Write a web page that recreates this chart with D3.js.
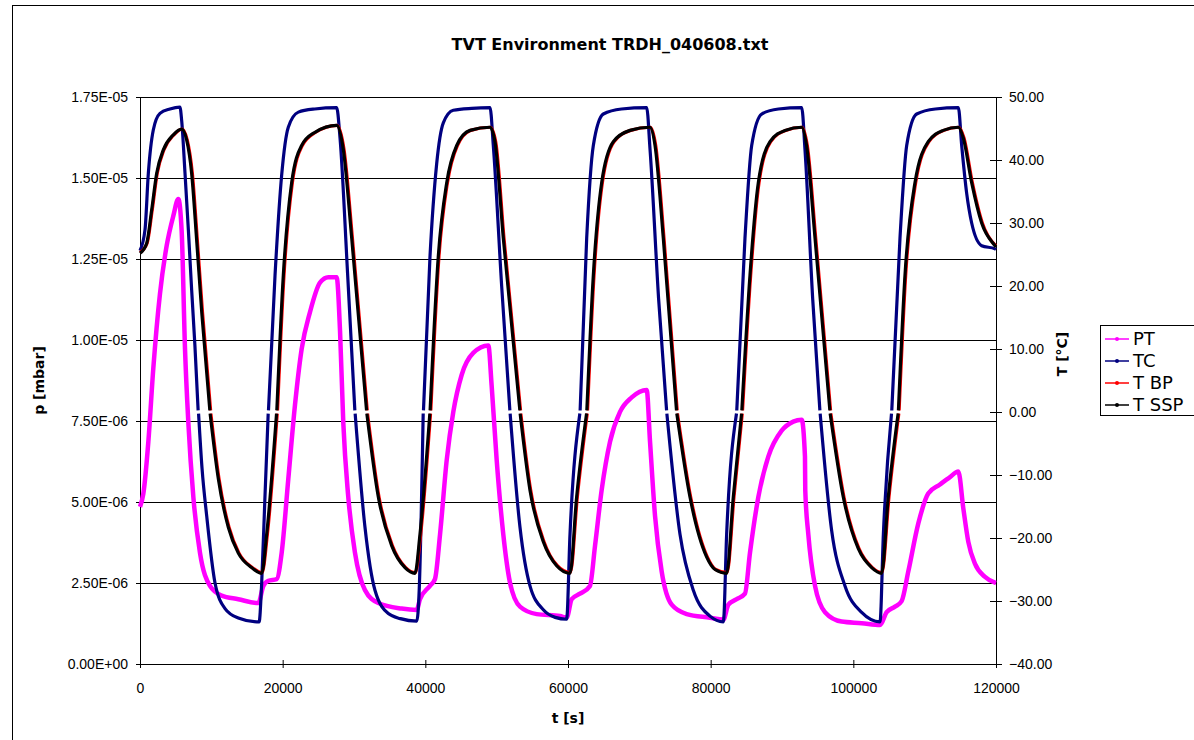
<!DOCTYPE html>
<html>
<head>
<meta charset="utf-8">
<script src="https://cdn.jsdelivr.net/npm/d3@7"></script>
<style>
  body { margin: 0; background: #fff; }
  svg { display: block; font-family: "DejaVu Sans", Arial, sans-serif; }
  .axis text { font-size: 14px; fill: #000; }
  .axis path, .axis line { stroke: #000; }
</style>
</head>
<body>
<script>
// time in s, pressure in mbar, temperatures in degC
// null = gap in the logged data (white breaks at 0 degC)
var ptData = [
  [0, 4.85e-6], [470, 5.26e-6], [1170, 6.86e-6], [1870, 9.14e-6], [2800, 11.43e-6], [3740, 12.91e-6],
  [4670, 13.83e-6], [5370, 14.35e-6], [5840, 13.37e-6], [6310, 9.72e-6], [6780, 7.44e-6], [7480, 5.15e-6],
  [8410, 3.43e-6], [9810, 2.41e-6], [11450, 2.11e-6], [13780, 2.0e-6], [16590, 1.88e-6],
  [17290, 2.41e-6], [17990, 2.57e-6], [19160, 2.62e-6], [19860, 3.43e-6], [20790, 5.71e-6], [21730, 8.0e-6],
  [22660, 9.72e-6], [23830, 10.86e-6], [25230, 11.77e-6], [26400, 11.94e-6], [27570, 11.94e-6],
  [28040, 10.29e-6], [28500, 7.44e-6], [29200, 5.15e-6], [30140, 3.43e-6], [31540, 2.28e-6], [33410, 1.88e-6],
  [36680, 1.71e-6], [38790, 1.67e-6],
  [39250, 2.0e-6], [40650, 2.41e-6], [41350, 2.62e-6], [42060, 4.0e-6], [43000, 6.3e-6], [43920, 7.78e-6],
  [45090, 8.92e-6], [46720, 9.6e-6], [48830, 9.83e-6],
  [49300, 8.58e-6], [50000, 6.3e-6], [50930, 4.0e-6], [51870, 2.51e-6], [53270, 1.77e-6], [55610, 1.54e-6],
  [58880, 1.48e-6], [59820, 1.43e-6],
  [60520, 2.0e-6], [61680, 2.17e-6], [63080, 2.41e-6], [63790, 3.65e-6], [64720, 5.37e-6], [65890, 6.86e-6],
  [67290, 7.78e-6], [68930, 8.23e-6], [71030, 8.46e-6],
  [71500, 6.86e-6], [72200, 4.57e-6], [73130, 2.86e-6], [74540, 1.83e-6], [76640, 1.54e-6], [79900, 1.43e-6],
  [81780, 1.37e-6],
  [82480, 1.83e-6], [83650, 2.0e-6], [84810, 2.17e-6], [85510, 3.43e-6], [86680, 5.15e-6], [88080, 6.4e-6],
  [89950, 7.2e-6], [91580, 7.48e-6], [92760, 7.54e-6],
  [93220, 6.4e-6], [93260, 5.37e-6], [93690, 4.0e-6], [94630, 2.41e-6], [96030, 1.6e-6], [98360, 1.31e-6],
  [101170, 1.26e-6], [103740, 1.2e-6],
  [104670, 1.6e-6], [105840, 1.77e-6], [106770, 1.94e-6], [107710, 2.86e-6], [109110, 4.34e-6], [110500, 5.26e-6],
  [112140, 5.54e-6], [113550, 5.77e-6], [114720, 5.94e-6],
  [115420, 4.8e-6], [116120, 3.77e-6], [117060, 3.09e-6], [118460, 2.69e-6], [119860, 2.51e-6], [120000, 2.5e-6]
];

var tcData = [
  [0, 25.6], [700, 28.9], [1170, 37.9], [1870, 44.8], [2800, 47.4], [4200, 48.1], [5600, 48.4],
  [5840, 46.3], [6310, 37.9], [6780, 28.9], [7240, 19.4], [7700, 10.5], [8150, 0.25], [8180, null], [8210, -0.25],
  [8700, -9], [9350, -16.5], [10510, -27.1], [11920, -31.2], [13780, -32.7], [16360, -33.3], [16700, -33.3],
  [17060, -27.1], [17500, -14], [17970, -0.25], [17990, null], [18010, 0.25], [18930, 21.7], [19860, 37.6],
  [20790, 45.2], [22200, 47.6], [24500, 48.1], [27570, 48.3],
  [28040, 43.5], [29100, 22], [30120, 0.25], [30140, null], [30160, -0.25], [31540, -18.3], [32940, -28.3],
  [34810, -32], [36500, -32.8], [38800, -33.2],
  [39150, -28], [39700, -0.25], [39720, null], [39740, 0.25], [40650, 24.6], [41590, 39.4], [42520, 45.9],
  [43920, 47.9], [46500, 48.2], [49070, 48.3],
  [49530, 42.3], [50700, 20], [51850, 0.25], [51870, null], [51890, -0.25], [53270, -18.3], [54670, -27.6],
  [56540, -31.4], [58200, -32.6], [59810, -32.9],
  [60280, -19.4], [61660, -0.25], [61680, null], [61700, 0.25], [62620, 27.6], [63550, 42.3], [64950, 47.3],
  [67500, 48.1], [71030, 48.3],
  [71500, 41.7], [72700, 18], [73820, 0.25], [73840, null], [73860, -0.25], [75700, -19.4], [77570, -28.3],
  [79900, -32.4], [81780, -33.3],
  [82240, -19.4], [83620, -0.25], [83640, null], [83660, 0.25], [84810, 27.6], [85750, 42.3], [87150, 47.3],
  [89500, 48.1], [92760, 48.3],
  [93220, 41.7], [94300, 18], [95310, 0.25], [95330, null], [95350, -0.25], [96960, -18.8], [98830, -27.6],
  [101170, -31.8], [103740, -33.3],
  [104210, -19.4], [105350, -0.25], [105370, null], [105390, 0.25], [106540, 27.6], [107480, 42.3],
  [108880, 47.3], [111500, 48.1], [114720, 48.3],
  [115190, 42.3], [115890, 34.7], [116590, 30], [117990, 26.4], [119860, 25.9], [120000, 25.8]
];

var tbpData = [
  [0, 25.3], [1000, 26.8], [1720, 32.1], [2420, 37.9], [3350, 41.6], [4750, 44.0], [5900, 44.9],
  [6620, 43.2], [7340, 37.9], [8040, 27.3], [8760, 15.9], [9900, 0.25], [9920, null], [9940, -0.25],
  [11080, -10.6], [12480, -18.3], [13880, -22.4], [15750, -24.7], [17120, -25.5],
  [17860, -19.4], [19240, -0.25], [19260, null], [19280, 0.25], [20190, 21.7], [21360, 36.4], [22760, 42.3],
  [24630, 44.4], [27620, 45.5],
  [28600, 41.7], [29780, 27.6], [31860, 0.25], [31880, null], [31900, -0.25], [33510, -13.5], [35380, -21.2],
  [37250, -24.7], [38610, -25.5],
  [39350, -19.4], [40730, -0.25], [40750, null], [40770, 0.25], [41910, 24.6], [43100, 36.4], [44500, 42.3],
  [46360, 44.7], [49120, 45.2],
  [49870, 42.9], [51030, 27.6], [53350, 0.25], [53370, null], [53390, -0.25], [54770, -12.4], [56640, -20.6],
  [58510, -24.4], [60340, -25.5],
  [61310, -13.5], [62700, -0.25], [62720, null], [62740, 0.25], [63650, 21.7], [64820, 36.4], [66450, 42.9],
  [68790, 44.7], [71550, 45.2],
  [72300, 42.3], [73460, 27.6], [75310, 0.25], [75330, null], [75350, -0.25], [77200, -13.5], [79530, -23.0],
  [80710, -25.0], [82300, -25.5],
  [83270, -13.5], [84430, -0.25], [84450, null], [84470, 0.25], [85610, 21.7], [86780, 36.4], [88420, 42.9],
  [90520, 44.7], [92810, 45.2],
  [93550, 42.3], [94730, 27.6], [96810, 0.25], [96830, null], [96850, -0.25], [98690, -13.5], [100800, -21.7],
  [102670, -24.7], [104020, -25.5],
  [105000, -13.5], [106380, -0.25], [106400, null], [106420, 0.25], [107340, 21.7], [108740, 36.4],
  [110600, 42.9], [112700, 44.7], [114770, 45.2],
  [115520, 43.5], [116690, 36.4], [118090, 30], [119900, 26.5], [120000, 26.4]
];

var tsspData = [
  [0, 25.2], [940, 26.8], [1640, 32.1], [2340, 37.9], [3270, 41.6], [4670, 44.0], [5840, 44.9],
  [6540, 43.2], [7240, 37.9], [7940, 27.3], [8650, 15.9], [9790, 0.25], [9810, null], [9830, -0.25],
  [10980, -10.6], [12380, -18.3], [13780, -22.4], [15650, -24.7], [17060, -25.6],
  [17760, -19.4], [19140, -0.25], [19160, null], [19180, 0.25], [20090, 21.7], [21260, 36.4], [22660, 42.3],
  [24530, 44.4], [27570, 45.5],
  [28500, 41.7], [29680, 27.6], [31760, 0.25], [31780, null], [31800, -0.25], [33410, -13.5], [35280, -21.2],
  [37150, -24.7], [38550, -25.6],
  [39250, -19.4], [40630, -0.25], [40650, null], [40670, 0.25], [41810, 24.6], [43000, 36.4], [44400, 42.3],
  [46260, 44.7], [49070, 45.2],
  [49770, 42.9], [50930, 27.6], [53250, 0.25], [53270, null], [53290, -0.25], [54670, -12.4], [56540, -20.6],
  [58410, -24.4], [60280, -25.6],
  [61210, -13.5], [62600, -0.25], [62620, null], [62640, 0.25], [63550, 21.7], [64720, 36.4], [66350, 42.9],
  [68690, 44.7], [71500, 45.2],
  [72200, 42.3], [73360, 27.6], [75210, 0.25], [75230, null], [75250, -0.25], [77100, -13.5], [79430, -23.0],
  [80610, -25.0], [82240, -25.6],
  [83170, -13.5], [84330, -0.25], [84350, null], [84370, 0.25], [85510, 21.7], [86680, 36.4], [88320, 42.9],
  [90420, 44.7], [92760, 45.2],
  [93450, 42.3], [94630, 27.6], [96710, 0.25], [96730, null], [96750, -0.25], [98590, -13.5], [100700, -21.7],
  [102570, -24.7], [103960, -25.6],
  [104900, -13.5], [106280, -0.25], [106300, null], [106320, 0.25], [107240, 21.7], [108640, 36.4],
  [110500, 42.9], [112600, 44.7], [114720, 45.2],
  [115420, 43.5], [116590, 36.4], [117990, 30], [119860, 26.4], [120000, 26.2]
];

var timeTicks = [0, 20000, 40000, 60000, 80000, 100000, 120000];
var pTicks = [0, 2.5e-6, 5.0e-6, 7.5e-6, 1.0e-5, 1.25e-5, 1.5e-5, 1.75e-5];
var pLabels = ["0.00E+00", "2.50E-06", "5.00E-06", "7.50E-06", "1.00E-05", "1.25E-05", "1.50E-05", "1.75E-05"];
var tempTicks = [-40, -30, -20, -10, 0, 10, 20, 30, 40, 50];
var seriesNames = ["PT", "TC", "T BP", "T SSP"];
var seriesColors = ["#ff00ff", "#000080", "#ff0000", "#000000"];

var margin = { top: 97, right: 198, bottom: 76, left: 140 },
  W = 1194,
  H = 740,
  width = W - margin.left - margin.right,
  height = H - margin.top - margin.bottom;

var svg = d3
  .select("body")
  .append("svg")
  .attr("width", W)
  .attr("height", H);

// chart area frame
svg
  .append("rect")
  .attr("x", 12.5)
  .attr("y", 5.5)
  .attr("width", 1300)
  .attr("height", 900)
  .attr("fill", "#fff")
  .attr("stroke", "#000");

svg
  .append("text")
  .attr("x", 610)
  .attr("y", 50)
  .attr("text-anchor", "middle")
  .style("font-size", "16px")
  .style("font-weight", "bold")
  .text("TVT Environment TRDH_040608.txt");

var g = svg
  .append("g")
  .attr("transform", "translate(" + margin.left + "," + margin.top + ")");

var x = d3.scaleLinear().domain([0, 120000]).range([0, width]);
var yP = d3.scaleLinear().domain([0, 1.75e-5]).range([height, 0]);
var yT = d3.scaleLinear().domain([-40, 50]).range([height, 0]);

// gridlines
g.append("g")
  .selectAll("line")
  .data(pTicks)
  .enter()
  .append("line")
  .attr("x1", 0)
  .attr("x2", width)
  .attr("y1", function (d) { return Math.round(yP(d)) + 0.5; })
  .attr("y2", function (d) { return Math.round(yP(d)) + 0.5; })
  .attr("stroke", "#000")
  .attr("stroke-width", 1);

var xAxis = d3.axisBottom(x).tickValues(timeTicks).tickFormat(d3.format("d")).tickSize(4).tickSizeOuter(0).tickPadding(15);
var yAxisL = d3.axisLeft(yP).tickValues(pTicks).tickFormat(function (d, i) { return pLabels[i]; }).tickSize(4).tickSizeOuter(0).tickPadding(8);
var yAxisR = d3.axisRight(yT).tickValues(tempTicks).tickFormat(d3.format(".2f")).tickSize(6).tickSizeOuter(0).tickPadding(6);

var gx = g.append("g").attr("class", "axis").attr("transform", "translate(0," + height + ")").call(xAxis);
gx.selectAll(".tick line").attr("y1", -4);

var gl = g.append("g").attr("class", "axis").call(yAxisL);
gl.selectAll(".tick line").attr("x1", 4);

var gr = g.append("g").attr("class", "axis").attr("transform", "translate(" + width + ",0)").call(yAxisR);
gr.selectAll(".tick line").attr("x1", -6);
gr.selectAll(".tick text").attr("x", 13);

// axis titles
svg.append("text")
  .attr("x", margin.left + width / 2)
  .attr("y", 723)
  .attr("text-anchor", "middle")
  .style("font-size", "14px")
  .style("font-weight", "bold")
  .text("t [s]");

svg.append("text")
  .attr("transform", "translate(44," + (margin.top + height / 2) + ") rotate(-90)")
  .attr("text-anchor", "middle")
  .style("font-size", "14px")
  .style("font-weight", "bold")
  .text("p [mbar]");

svg.append("text")
  .attr("transform", "translate(1067,354) rotate(-90)")
  .attr("text-anchor", "middle")
  .style("font-size", "14px")
  .style("font-weight", "bold")
  .text("T [°C]");

// series
var lineP = d3
  .line()
  .defined(function (d) { return d[1] !== null; })
  .x(function (d) { return x(d[0]); })
  .y(function (d) { return yP(d[1]); })
  .curve(d3.curveMonotoneX);

var lineT = d3
  .line()
  .defined(function (d) { return d[1] !== null; })
  .x(function (d) { return x(d[0]); })
  .y(function (d) { return yT(d[1]); })
  .curve(d3.curveMonotoneX);

var plot = g.append("g");

plot.append("path").datum(ptData).attr("d", lineP)
  .attr("fill", "none").attr("stroke", seriesColors[0]).attr("stroke-width", 4.5).attr("stroke-linejoin", "round");
plot.append("path").datum(tcData).attr("d", lineT)
  .attr("fill", "none").attr("stroke", seriesColors[1]).attr("stroke-width", 3.2).attr("stroke-linejoin", "round");
plot.append("path").datum(tbpData).attr("d", lineT)
  .attr("fill", "none").attr("stroke", seriesColors[2]).attr("stroke-width", 3.2).attr("stroke-linejoin", "round");
plot.append("path").datum(tsspData).attr("d", lineT)
  .attr("fill", "none").attr("stroke", seriesColors[3]).attr("stroke-width", 3.2).attr("stroke-linejoin", "round");

// legend
var legend = svg.append("g").attr("transform", "translate(1100,325)");
legend.append("rect")
  .attr("x", 0.5).attr("y", 0.5)
  .attr("width", 200).attr("height", 90)
  .attr("fill", "#fff").attr("stroke", "#000");

var item = legend.selectAll(".item")
  .data(seriesNames)
  .enter()
  .append("g")
  .attr("transform", function (d, i) { return "translate(0," + (14 + i * 22) + ")"; });

item.append("line")
  .attr("x1", 5).attr("x2", 29)
  .attr("stroke", function (d, i) { return seriesColors[i]; })
  .attr("stroke-width", 1.5);
item.append("circle")
  .attr("cx", 17).attr("r", 2)
  .attr("fill", function (d, i) { return seriesColors[i]; });
item.append("text")
  .attr("x", 33).attr("dy", "0.36em")
  .style("font-size", "18px")
  .text(function (d) { return d; });
</script>
</body>
</html>
